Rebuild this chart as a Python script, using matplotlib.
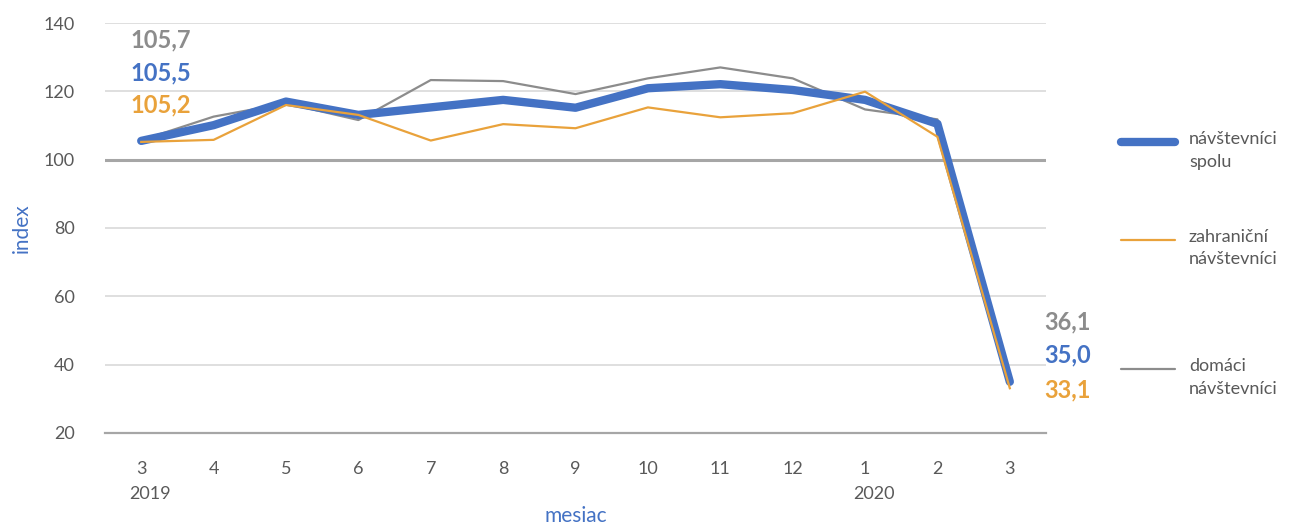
import numpy as np
import matplotlib
matplotlib.use('Agg')
import matplotlib.pyplot as plt
from matplotlib.lines import Line2D

months = ['3', '4', '5', '6', '7', '8', '9', '10', '11', '12', '1', '2', '3']
years = {0: '2019', 10: '2020'}

spolu = [105.5, 110.1, 117.0, 113.1, 115.3, 117.5, 115.2, 120.9, 122.1, 120.4, 117.5, 110.5, 35.0]
zahranicni = [105.2, 105.8, 116.0, 113.1, 105.6, 110.4, 109.2, 115.3, 112.4, 113.6, 119.9, 106.7, 33.1]
domaci = [105.7, 112.6, 116.5, 111.6, 123.3, 123.0, 119.2, 123.8, 127.0, 123.8, 114.7, 111.8, 36.1]

BLUE = '#4472C4'
ORANGE = '#E9A23B'
GRAY = '#8C8C8C'
TXT = '#595959'

plt.rcParams['font.family'] = ['Lato', 'DejaVu Sans']

fig = plt.figure(figsize=(12.92, 5.29), dpi=100)
ax = fig.add_axes([0.0813, 0.1815, 0.7283, 0.775])

x = np.arange(len(months))
ax.plot(x, domaci, color=GRAY, lw=1.6, zorder=3)
ax.plot(x, spolu, color=BLUE, lw=6, zorder=4, solid_capstyle='round')
ax.plot(x, zahranicni, color=ORANGE, lw=1.6, zorder=5)

ax.set_xlim(-0.5, len(months) - 0.5)
ax.set_ylim(20, 140)
ax.set_yticks(range(20, 141, 20))
for v in range(40, 141, 20):
    if v == 100:
        ax.axhline(v, color='#A6A6A6', lw=2.2, zorder=1)
    else:
        ax.axhline(v, color='#D9D9D9', lw=1.2, zorder=1)
ax.axhline(20, color='#A6A6A6', lw=1.6, zorder=1, clip_on=False)

for s in ax.spines.values():
    s.set_visible(False)
ax.tick_params(axis='y', length=0, pad=22, labelsize=13, labelcolor=TXT)
ax.set_xticks(x)
ax.set_xticklabels(months)
ax.tick_params(axis='x', length=0, pad=20, labelsize=13, labelcolor=TXT)
for i, y in years.items():
    ax.text(i - 0.17, -0.15, y, transform=ax.get_xaxis_transform(),
            ha='left', va='center', fontsize=13, color=TXT)

ax.set_ylabel('index', color=BLUE, fontsize=15, labelpad=8)
ax.set_xlabel('mesiac', color=BLUE, fontsize=15, labelpad=21)

# start / end value labels
lab = lambda v: ('%.1f' % v).replace('.', ',')
ax.text(-0.15, 135.0, lab(domaci[0]), color=GRAY, fontsize=17, fontweight='bold', va='center')
ax.text(-0.15, 125.4, lab(spolu[0]), color=BLUE, fontsize=17, fontweight='bold', va='center')
ax.text(-0.15, 116.0, lab(zahranicni[0]), color=ORANGE, fontsize=17, fontweight='bold', va='center')
ax.text(12.47, 52.5, lab(domaci[-1]), color=GRAY, fontsize=17, fontweight='bold', va='center', clip_on=False)
ax.text(12.47, 42.8, lab(spolu[-1]), color=BLUE, fontsize=17, fontweight='bold', va='center', clip_on=False)
ax.text(12.47, 32.6, lab(zahranicni[-1]), color=ORANGE, fontsize=17, fontweight='bold', va='center', clip_on=False)

# legend drawn by hand to keep the uneven spacing
W, H = 1292, 529
leg = [(142, BLUE, 6, 'návštevníci\nspolu'),
       (240, ORANGE, 1.6, 'zahraniční\nnávštevníci'),
       (369, GRAY, 1.6, 'domáci\nnávštevníci')]
for yp, c, lw, t in leg:
    fig.add_artist(Line2D([1121 / W, 1175 / W], [1 - yp / H, 1 - yp / H], color=c, lw=lw,
                          solid_capstyle='round'))
    fig.text(1189 / W, 1 - (yp - 11) / H, t, ha='left', va='top', fontsize=13,
             color=TXT, linespacing=1.5)

fig.savefig('out.png', dpi=100)
